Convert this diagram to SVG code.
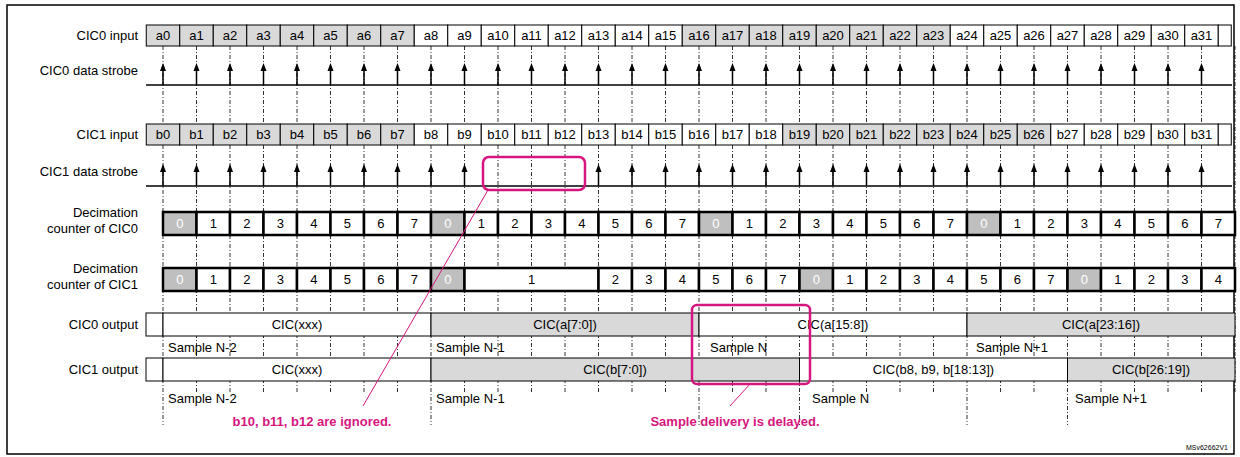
<svg xmlns="http://www.w3.org/2000/svg" xmlns:xlink="http://www.w3.org/1999/xlink" width="1240" height="457" viewBox="0 0 1240 457">
<style>
text{font-family:"Liberation Sans",Arial,sans-serif;font-size:13px;fill:#000}
.l{text-anchor:end}.c{text-anchor:middle}
.w{fill:#fff;stroke:#000;stroke-width:1}.g{fill:#d9d9d9;stroke:#000;stroke-width:1}
.cw{fill:#fff;stroke:#000;stroke-width:2.5}.cg{fill:#bfbfbf;stroke:#000;stroke-width:2.5}
.z{fill:#fff}
.d{stroke:#000;stroke-width:0.8;stroke-dasharray:4,2,1,2;fill:none}
.base{stroke:#000;stroke-width:1.5}
.pk{fill:none;stroke:#d6157e;stroke-width:2.5}
.pl{stroke:#d6157e;stroke-width:1}
.pt{fill:#d6157e;font-weight:bold;text-anchor:middle}
</style>
<defs>
<g id="arr"><line x1="0" y1="0" x2="0" y2="-16" stroke="#000" stroke-width="1.5"/><polygon points="-3,-14 3,-14 0,-22" fill="#000"/></g>
</defs>
<rect x="7" y="5" width="1227" height="449" fill="#fff" stroke="#000" stroke-width="1.5"/>
<g id="labels">
<text class="l" x="138" y="40">CIC0 input</text>
<text class="l" x="138" y="75">CIC0 data strobe</text>
<text class="l" x="138" y="139">CIC1 input</text>
<text class="l" x="138" y="176">CIC1 data strobe</text>
<text class="l" x="138" y="217">Decimation</text><text class="l" x="138" y="233">counter of CIC0</text>
<text class="l" x="138" y="273">Decimation</text><text class="l" x="138" y="289">counter of CIC1</text>
<text class="l" x="138" y="329">CIC0 output</text>
<text class="l" x="138" y="374">CIC1 output</text>
</g>
<g id="connectors">
<path class="d" d="M163 46V425M196.5 46V393M230 46V393M263.5 46V393M297 46V393M330.5 46V393M364 46V393M397.5 46V393M431 46V425M464.5 46V393M498 46V393M531.5 46V393M565 46V393M598.5 46V393M632 46V393M665.5 46V393M699 46V425M732.5 46V393M766 46V393M799.5 46V425M833 46V393M866.5 46V393M900 46V393M933.5 46V393M967 46V425M1000.5 46V393M1034 46V393M1067.5 46V425M1101 46V393M1134.5 46V393M1168 46V393M1201.5 46V393M1235 46V393"/>
</g>
<g id="cic0-input">
<rect class="g" x="146.25" y="25" width="33.5" height="21"/><rect class="g" x="179.75" y="25" width="33.5" height="21"/><rect class="g" x="213.25" y="25" width="33.5" height="21"/><rect class="g" x="246.75" y="25" width="33.5" height="21"/><rect class="g" x="280.25" y="25" width="33.5" height="21"/><rect class="g" x="313.75" y="25" width="33.5" height="21"/><rect class="g" x="347.25" y="25" width="33.5" height="21"/><rect class="g" x="380.75" y="25" width="33.5" height="21"/>
<rect class="w" x="414.25" y="25" width="33.5" height="21"/><rect class="w" x="447.75" y="25" width="33.5" height="21"/><rect class="w" x="481.25" y="25" width="33.5" height="21"/><rect class="w" x="514.75" y="25" width="33.5" height="21"/><rect class="w" x="548.25" y="25" width="33.5" height="21"/><rect class="w" x="581.75" y="25" width="33.5" height="21"/><rect class="w" x="615.25" y="25" width="33.5" height="21"/><rect class="w" x="648.75" y="25" width="33.5" height="21"/>
<rect class="g" x="682.25" y="25" width="33.5" height="21"/><rect class="g" x="715.75" y="25" width="33.5" height="21"/><rect class="g" x="749.25" y="25" width="33.5" height="21"/><rect class="g" x="782.75" y="25" width="33.5" height="21"/><rect class="g" x="816.25" y="25" width="33.5" height="21"/><rect class="g" x="849.75" y="25" width="33.5" height="21"/><rect class="g" x="883.25" y="25" width="33.5" height="21"/><rect class="g" x="916.75" y="25" width="33.5" height="21"/>
<rect class="w" x="950.25" y="25" width="33.5" height="21"/><rect class="w" x="983.75" y="25" width="33.5" height="21"/><rect class="w" x="1017.25" y="25" width="33.5" height="21"/><rect class="w" x="1050.75" y="25" width="33.5" height="21"/><rect class="w" x="1084.25" y="25" width="33.5" height="21"/><rect class="w" x="1117.75" y="25" width="33.5" height="21"/><rect class="w" x="1151.25" y="25" width="33.5" height="21"/><rect class="w" x="1184.75" y="25" width="33.5" height="21"/><rect class="w" x="1218.25" y="25" width="13" height="21"/>
<text class="c" x="163" y="40">a0</text><text class="c" x="196.5" y="40">a1</text><text class="c" x="230" y="40">a2</text><text class="c" x="263.5" y="40">a3</text><text class="c" x="297" y="40">a4</text><text class="c" x="330.5" y="40">a5</text><text class="c" x="364" y="40">a6</text><text class="c" x="397.5" y="40">a7</text><text class="c" x="431" y="40">a8</text><text class="c" x="464.5" y="40">a9</text><text class="c" x="498" y="40">a10</text><text class="c" x="531.5" y="40">a11</text><text class="c" x="565" y="40">a12</text><text class="c" x="598.5" y="40">a13</text><text class="c" x="632" y="40">a14</text><text class="c" x="665.5" y="40">a15</text><text class="c" x="699" y="40">a16</text><text class="c" x="732.5" y="40">a17</text><text class="c" x="766" y="40">a18</text><text class="c" x="799.5" y="40">a19</text><text class="c" x="833" y="40">a20</text><text class="c" x="866.5" y="40">a21</text><text class="c" x="900" y="40">a22</text><text class="c" x="933.5" y="40">a23</text><text class="c" x="967" y="40">a24</text><text class="c" x="1000.5" y="40">a25</text><text class="c" x="1034" y="40">a26</text><text class="c" x="1067.5" y="40">a27</text><text class="c" x="1101" y="40">a28</text><text class="c" x="1134.5" y="40">a29</text><text class="c" x="1168" y="40">a30</text><text class="c" x="1201.5" y="40">a31</text>
</g>
<g id="cic0-strobe">
<line class="base" x1="146" y1="85" x2="1232" y2="85"/>
<use href="#arr" x="163" y="85"/><use href="#arr" x="196.5" y="85"/><use href="#arr" x="230" y="85"/><use href="#arr" x="263.5" y="85"/><use href="#arr" x="297" y="85"/><use href="#arr" x="330.5" y="85"/><use href="#arr" x="364" y="85"/><use href="#arr" x="397.5" y="85"/><use href="#arr" x="431" y="85"/><use href="#arr" x="464.5" y="85"/><use href="#arr" x="498" y="85"/><use href="#arr" x="531.5" y="85"/><use href="#arr" x="565" y="85"/><use href="#arr" x="598.5" y="85"/><use href="#arr" x="632" y="85"/><use href="#arr" x="665.5" y="85"/><use href="#arr" x="699" y="85"/><use href="#arr" x="732.5" y="85"/><use href="#arr" x="766" y="85"/><use href="#arr" x="799.5" y="85"/><use href="#arr" x="833" y="85"/><use href="#arr" x="866.5" y="85"/><use href="#arr" x="900" y="85"/><use href="#arr" x="933.5" y="85"/><use href="#arr" x="967" y="85"/><use href="#arr" x="1000.5" y="85"/><use href="#arr" x="1034" y="85"/><use href="#arr" x="1067.5" y="85"/><use href="#arr" x="1101" y="85"/><use href="#arr" x="1134.5" y="85"/><use href="#arr" x="1168" y="85"/><use href="#arr" x="1201.5" y="85"/>
</g>
<g id="cic1-input">
<rect class="g" x="146.25" y="124" width="33.5" height="21"/><rect class="g" x="179.75" y="124" width="33.5" height="21"/><rect class="g" x="213.25" y="124" width="33.5" height="21"/><rect class="g" x="246.75" y="124" width="33.5" height="21"/><rect class="g" x="280.25" y="124" width="33.5" height="21"/><rect class="g" x="313.75" y="124" width="33.5" height="21"/><rect class="g" x="347.25" y="124" width="33.5" height="21"/><rect class="g" x="380.75" y="124" width="33.5" height="21"/>
<rect class="w" x="414.25" y="124" width="33.5" height="21"/><rect class="w" x="447.75" y="124" width="33.5" height="21"/><rect class="w" x="481.25" y="124" width="33.5" height="21"/><rect class="w" x="514.75" y="124" width="33.5" height="21"/><rect class="w" x="548.25" y="124" width="33.5" height="21"/><rect class="w" x="581.75" y="124" width="33.5" height="21"/><rect class="w" x="615.25" y="124" width="33.5" height="21"/><rect class="w" x="648.75" y="124" width="33.5" height="21"/><rect class="w" x="682.25" y="124" width="33.5" height="21"/><rect class="w" x="715.75" y="124" width="33.5" height="21"/><rect class="w" x="749.25" y="124" width="33.5" height="21"/>
<rect class="g" x="782.75" y="124" width="33.5" height="21"/><rect class="g" x="816.25" y="124" width="33.5" height="21"/><rect class="g" x="849.75" y="124" width="33.5" height="21"/><rect class="g" x="883.25" y="124" width="33.5" height="21"/><rect class="g" x="916.75" y="124" width="33.5" height="21"/><rect class="g" x="950.25" y="124" width="33.5" height="21"/><rect class="g" x="983.75" y="124" width="33.5" height="21"/><rect class="g" x="1017.25" y="124" width="33.5" height="21"/>
<rect class="w" x="1050.75" y="124" width="33.5" height="21"/><rect class="w" x="1084.25" y="124" width="33.5" height="21"/><rect class="w" x="1117.75" y="124" width="33.5" height="21"/><rect class="w" x="1151.25" y="124" width="33.5" height="21"/><rect class="w" x="1184.75" y="124" width="33.5" height="21"/><rect class="w" x="1218.25" y="124" width="13" height="21"/>
<text class="c" x="163" y="139">b0</text><text class="c" x="196.5" y="139">b1</text><text class="c" x="230" y="139">b2</text><text class="c" x="263.5" y="139">b3</text><text class="c" x="297" y="139">b4</text><text class="c" x="330.5" y="139">b5</text><text class="c" x="364" y="139">b6</text><text class="c" x="397.5" y="139">b7</text><text class="c" x="431" y="139">b8</text><text class="c" x="464.5" y="139">b9</text><text class="c" x="498" y="139">b10</text><text class="c" x="531.5" y="139">b11</text><text class="c" x="565" y="139">b12</text><text class="c" x="598.5" y="139">b13</text><text class="c" x="632" y="139">b14</text><text class="c" x="665.5" y="139">b15</text><text class="c" x="699" y="139">b16</text><text class="c" x="732.5" y="139">b17</text><text class="c" x="766" y="139">b18</text><text class="c" x="799.5" y="139">b19</text><text class="c" x="833" y="139">b20</text><text class="c" x="866.5" y="139">b21</text><text class="c" x="900" y="139">b22</text><text class="c" x="933.5" y="139">b23</text><text class="c" x="967" y="139">b24</text><text class="c" x="1000.5" y="139">b25</text><text class="c" x="1034" y="139">b26</text><text class="c" x="1067.5" y="139">b27</text><text class="c" x="1101" y="139">b28</text><text class="c" x="1134.5" y="139">b29</text><text class="c" x="1168" y="139">b30</text><text class="c" x="1201.5" y="139">b31</text>
</g>
<g id="cic1-strobe">
<line class="base" x1="146" y1="186" x2="1232" y2="186"/>
<use href="#arr" x="163" y="186"/><use href="#arr" x="196.5" y="186"/><use href="#arr" x="230" y="186"/><use href="#arr" x="263.5" y="186"/><use href="#arr" x="297" y="186"/><use href="#arr" x="330.5" y="186"/><use href="#arr" x="364" y="186"/><use href="#arr" x="397.5" y="186"/><use href="#arr" x="431" y="186"/><use href="#arr" x="464.5" y="186"/><use href="#arr" x="598.5" y="186"/><use href="#arr" x="632" y="186"/><use href="#arr" x="665.5" y="186"/><use href="#arr" x="699" y="186"/><use href="#arr" x="732.5" y="186"/><use href="#arr" x="766" y="186"/><use href="#arr" x="799.5" y="186"/><use href="#arr" x="833" y="186"/><use href="#arr" x="866.5" y="186"/><use href="#arr" x="900" y="186"/><use href="#arr" x="933.5" y="186"/><use href="#arr" x="967" y="186"/><use href="#arr" x="1000.5" y="186"/><use href="#arr" x="1034" y="186"/><use href="#arr" x="1067.5" y="186"/><use href="#arr" x="1101" y="186"/><use href="#arr" x="1134.5" y="186"/><use href="#arr" x="1168" y="186"/><use href="#arr" x="1201.5" y="186"/>
</g>
<g id="counter-cic0">
<rect class="cg" x="163" y="212" width="33.5" height="23"/><rect class="cw" x="196.5" y="212" width="33.5" height="23"/><rect class="cw" x="230" y="212" width="33.5" height="23"/><rect class="cw" x="263.5" y="212" width="33.5" height="23"/><rect class="cw" x="297" y="212" width="33.5" height="23"/><rect class="cw" x="330.5" y="212" width="33.5" height="23"/><rect class="cw" x="364" y="212" width="33.5" height="23"/><rect class="cw" x="397.5" y="212" width="33.5" height="23"/>
<rect class="cg" x="431" y="212" width="33.5" height="23"/><rect class="cw" x="464.5" y="212" width="33.5" height="23"/><rect class="cw" x="498" y="212" width="33.5" height="23"/><rect class="cw" x="531.5" y="212" width="33.5" height="23"/><rect class="cw" x="565" y="212" width="33.5" height="23"/><rect class="cw" x="598.5" y="212" width="33.5" height="23"/><rect class="cw" x="632" y="212" width="33.5" height="23"/><rect class="cw" x="665.5" y="212" width="33.5" height="23"/>
<rect class="cg" x="699" y="212" width="33.5" height="23"/><rect class="cw" x="732.5" y="212" width="33.5" height="23"/><rect class="cw" x="766" y="212" width="33.5" height="23"/><rect class="cw" x="799.5" y="212" width="33.5" height="23"/><rect class="cw" x="833" y="212" width="33.5" height="23"/><rect class="cw" x="866.5" y="212" width="33.5" height="23"/><rect class="cw" x="900" y="212" width="33.5" height="23"/><rect class="cw" x="933.5" y="212" width="33.5" height="23"/>
<rect class="cg" x="967" y="212" width="33.5" height="23"/><rect class="cw" x="1000.5" y="212" width="33.5" height="23"/><rect class="cw" x="1034" y="212" width="33.5" height="23"/><rect class="cw" x="1067.5" y="212" width="33.5" height="23"/><rect class="cw" x="1101" y="212" width="33.5" height="23"/><rect class="cw" x="1134.5" y="212" width="33.5" height="23"/><rect class="cw" x="1168" y="212" width="33.5" height="23"/><rect class="cw" x="1201.5" y="212" width="33.5" height="23"/>
<text class="c z" x="179.75" y="228">0</text><text class="c" x="213.25" y="228">1</text><text class="c" x="246.75" y="228">2</text><text class="c" x="280.25" y="228">3</text><text class="c" x="313.75" y="228">4</text><text class="c" x="347.25" y="228">5</text><text class="c" x="380.75" y="228">6</text><text class="c" x="414.25" y="228">7</text>
<text class="c z" x="447.75" y="228">0</text><text class="c" x="481.25" y="228">1</text><text class="c" x="514.75" y="228">2</text><text class="c" x="548.25" y="228">3</text><text class="c" x="581.75" y="228">4</text><text class="c" x="615.25" y="228">5</text><text class="c" x="648.75" y="228">6</text><text class="c" x="682.25" y="228">7</text>
<text class="c z" x="715.75" y="228">0</text><text class="c" x="749.25" y="228">1</text><text class="c" x="782.75" y="228">2</text><text class="c" x="816.25" y="228">3</text><text class="c" x="849.75" y="228">4</text><text class="c" x="883.25" y="228">5</text><text class="c" x="916.75" y="228">6</text><text class="c" x="950.25" y="228">7</text>
<text class="c z" x="983.75" y="228">0</text><text class="c" x="1017.25" y="228">1</text><text class="c" x="1050.75" y="228">2</text><text class="c" x="1084.25" y="228">3</text><text class="c" x="1117.75" y="228">4</text><text class="c" x="1151.25" y="228">5</text><text class="c" x="1184.75" y="228">6</text><text class="c" x="1218.25" y="228">7</text>
</g>
<g id="counter-cic1">
<rect class="cg" x="163" y="268" width="33.5" height="23"/><rect class="cw" x="196.5" y="268" width="33.5" height="23"/><rect class="cw" x="230" y="268" width="33.5" height="23"/><rect class="cw" x="263.5" y="268" width="33.5" height="23"/><rect class="cw" x="297" y="268" width="33.5" height="23"/><rect class="cw" x="330.5" y="268" width="33.5" height="23"/><rect class="cw" x="364" y="268" width="33.5" height="23"/><rect class="cw" x="397.5" y="268" width="33.5" height="23"/>
<rect class="cg" x="431" y="268" width="33.5" height="23"/><rect class="cw" x="464.5" y="268" width="134" height="23"/><rect class="cw" x="598.5" y="268" width="33.5" height="23"/><rect class="cw" x="632" y="268" width="33.5" height="23"/><rect class="cw" x="665.5" y="268" width="33.5" height="23"/><rect class="cw" x="699" y="268" width="33.5" height="23"/><rect class="cw" x="732.5" y="268" width="33.5" height="23"/><rect class="cw" x="766" y="268" width="33.5" height="23"/>
<rect class="cg" x="799.5" y="268" width="33.5" height="23"/><rect class="cw" x="833" y="268" width="33.5" height="23"/><rect class="cw" x="866.5" y="268" width="33.5" height="23"/><rect class="cw" x="900" y="268" width="33.5" height="23"/><rect class="cw" x="933.5" y="268" width="33.5" height="23"/><rect class="cw" x="967" y="268" width="33.5" height="23"/><rect class="cw" x="1000.5" y="268" width="33.5" height="23"/><rect class="cw" x="1034" y="268" width="33.5" height="23"/>
<rect class="cg" x="1067.5" y="268" width="33.5" height="23"/><rect class="cw" x="1101" y="268" width="33.5" height="23"/><rect class="cw" x="1134.5" y="268" width="33.5" height="23"/><rect class="cw" x="1168" y="268" width="33.5" height="23"/><rect class="cw" x="1201.5" y="268" width="33.5" height="23"/>
<text class="c z" x="179.75" y="284">0</text><text class="c" x="213.25" y="284">1</text><text class="c" x="246.75" y="284">2</text><text class="c" x="280.25" y="284">3</text><text class="c" x="313.75" y="284">4</text><text class="c" x="347.25" y="284">5</text><text class="c" x="380.75" y="284">6</text><text class="c" x="414.25" y="284">7</text>
<text class="c z" x="447.75" y="284">0</text><text class="c" x="531.5" y="284">1</text><text class="c" x="615.25" y="284">2</text><text class="c" x="648.75" y="284">3</text><text class="c" x="682.25" y="284">4</text><text class="c" x="715.75" y="284">5</text><text class="c" x="749.25" y="284">6</text><text class="c" x="782.75" y="284">7</text>
<text class="c z" x="816.25" y="284">0</text><text class="c" x="849.75" y="284">1</text><text class="c" x="883.25" y="284">2</text><text class="c" x="916.75" y="284">3</text><text class="c" x="950.25" y="284">4</text><text class="c" x="983.75" y="284">5</text><text class="c" x="1017.25" y="284">6</text><text class="c" x="1050.75" y="284">7</text>
<text class="c z" x="1084.25" y="284">0</text><text class="c" x="1117.75" y="284">1</text><text class="c" x="1151.25" y="284">2</text><text class="c" x="1184.75" y="284">3</text><text class="c" x="1218.25" y="284">4</text>
</g>
<g id="cic0-output">
<rect class="w" x="146" y="313" width="17" height="23"/><rect class="w" x="163" y="313" width="268" height="23"/><rect class="g" x="431" y="313" width="268" height="23"/><rect class="w" x="699" y="313" width="268" height="23"/><rect class="g" x="967" y="313" width="268" height="23"/>
<text class="c" x="297" y="329">CIC(xxx)</text><text class="c" x="565" y="329">CIC(a[7:0])</text><text class="c" x="833" y="329">CIC(a[15:8])</text><text class="c" x="1101" y="329">CIC(a[23:16])</text>
<text x="168" y="352">Sample N-2</text><text x="436" y="352">Sample N-1</text><text x="710" y="352">Sample N</text><text x="976" y="352">Sample N+1</text>
</g>
<g id="cic1-output">
<rect class="w" x="146" y="358" width="17" height="23"/><rect class="w" x="163" y="358" width="268" height="23"/><rect class="g" x="431" y="358" width="368.5" height="23"/><rect class="w" x="799.5" y="358" width="268" height="23"/><rect class="g" x="1067.5" y="358" width="167.5" height="23"/>
<text class="c" x="297" y="374">CIC(xxx)</text><text class="c" x="615" y="374">CIC(b[7:0])</text><text class="c" x="933.5" y="374">CIC(b8, b9, b[18:13])</text><text class="c" x="1151" y="374">CIC(b[26:19])</text>
<text x="168" y="403">Sample N-2</text><text x="436" y="403">Sample N-1</text><text x="812" y="403">Sample N</text><text x="1075" y="403">Sample N+1</text>
</g>
<g id="annotations">
<rect class="pk" x="483" y="157" width="102" height="33" rx="6"/>
<line class="pl" x1="488" y1="190" x2="363" y2="406"/>
<text class="pt" x="312" y="426">b10, b11, b12 are ignored.</text>
<rect class="pk" x="692" y="305" width="118" height="79" rx="5"/>
<line class="pl" x1="750" y1="384" x2="730" y2="406"/>
<text class="pt" x="735" y="426">Sample delivery is delayed.</text>
<text x="1228" y="450" text-anchor="end" style="font-size:7px">MSv62662V1</text>
</g>
</svg>
